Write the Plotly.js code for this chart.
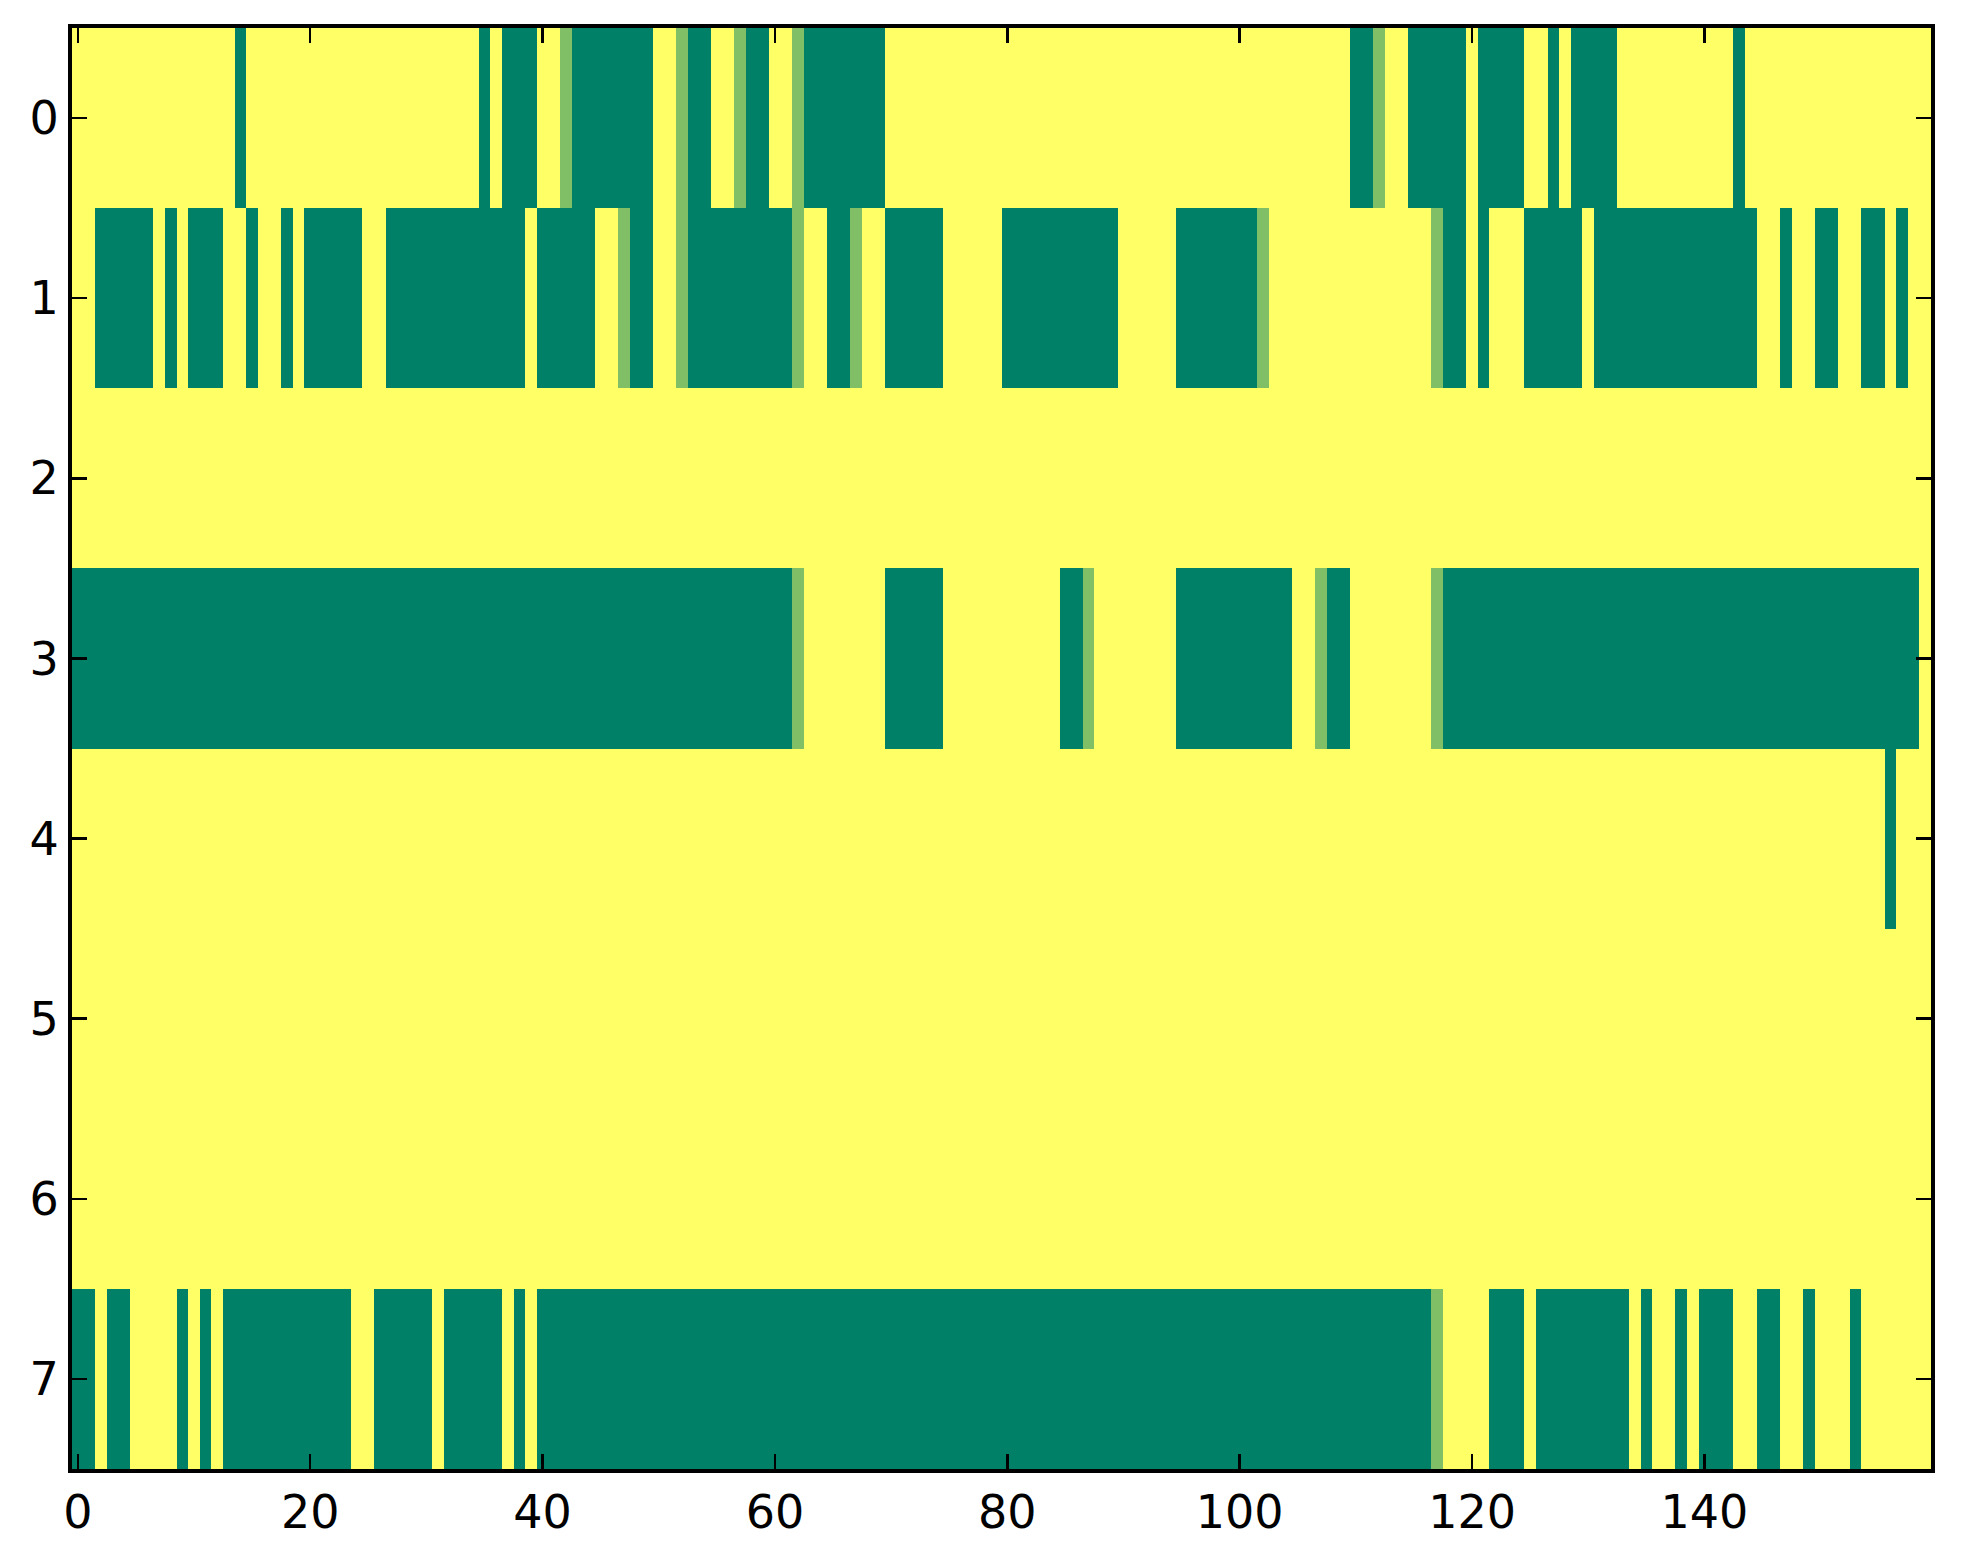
<!DOCTYPE html>
<html>
<head>
<meta charset="utf-8">
<script src="https://cdn.plot.ly/plotly-3.0.1.min.js"></script>
<style>html,body{margin:0;padding:0;background:#fff;}#chart{width:1963px;height:1564px;}</style>
</head>
<body>
<div id="chart"></div>
<script>
// Row values (0 = dark green, 0.5 = mid green, 1 = yellow), columns 0..159
const row0 = [
1,1,1,1,1,1,1,1,1,1, 1,1,1,1,0,1,1,1,1,1, 1,1,1,1,1,1,1,1,1,1, 1,1,1,1,1,0,1,0,0,0,
1,1,.5,0,0,0,0,0,0,0, 1,1,.5,0,0,1,1,.5,0,0, 1,1,.5,0,0,0,0,0,0,0, 1,1,1,1,1,1,1,1,1,1,
1,1,1,1,1,1,1,1,1,1, 1,1,1,1,1,1,1,1,1,1, 1,1,1,1,1,1,1,1,1,1, 0,0,.5,1,1,0,0,0,0,0,
1,0,0,0,0,1,1,0,1,0, 0,0,0,1,1,1,1,1,1,1, 1,1,1,0,1,1,1,1,1,1, 1,1,1,1,1,1,1,1,1,1];
const row1 = [
1,1,0,0,0,0,0,1,0,1, 0,0,0,1,1,0,1,1,0,1, 0,0,0,0,0,1,1,0,0,0, 0,0,0,0,0,0,0,0,0,1,
0,0,0,0,0,1,1,.5,0,0, 1,1,.5,0,0,0,0,0,0,0, 0,0,.5,1,1,0,0,.5,1,1, 0,0,0,0,0,1,1,1,1,1,
0,0,0,0,0,0,0,0,0,0, 1,1,1,1,1,0,0,0,0,0, 0,0,.5,1,1,1,1,1,1,1, 1,1,1,1,1,1,1,.5,0,0,
1,0,1,1,1,0,0,0,0,0, 1,0,0,0,0,0,0,0,0,0, 0,0,0,0,0,1,1,0,1,1, 0,0,1,1,0,0,1,0,1,1];
const row2 = [
1,1,1,1,1,1,1,1,1,1, 1,1,1,1,1,1,1,1,1,1, 1,1,1,1,1,1,1,1,1,1, 1,1,1,1,1,1,1,1,1,1,
1,1,1,1,1,1,1,1,1,1, 1,1,1,1,1,1,1,1,1,1, 1,1,1,1,1,1,1,1,1,1, 1,1,1,1,1,1,1,1,1,1,
1,1,1,1,1,1,1,1,1,1, 1,1,1,1,1,1,1,1,1,1, 1,1,1,1,1,1,1,1,1,1, 1,1,1,1,1,1,1,1,1,1,
1,1,1,1,1,1,1,1,1,1, 1,1,1,1,1,1,1,1,1,1, 1,1,1,1,1,1,1,1,1,1, 1,1,1,1,1,1,1,1,1,1];
const row3 = [
0,0,0,0,0,0,0,0,0,0, 0,0,0,0,0,0,0,0,0,0, 0,0,0,0,0,0,0,0,0,0, 0,0,0,0,0,0,0,0,0,0,
0,0,0,0,0,0,0,0,0,0, 0,0,0,0,0,0,0,0,0,0, 0,0,.5,1,1,1,1,1,1,1, 0,0,0,0,0,1,1,1,1,1,
1,1,1,1,1,0,0,.5,1,1, 1,1,1,1,1,0,0,0,0,0, 0,0,0,0,0,1,1,.5,0,0, 1,1,1,1,1,1,1,.5,0,0,
0,0,0,0,0,0,0,0,0,0, 0,0,0,0,0,0,0,0,0,0, 0,0,0,0,0,0,0,0,0,0, 0,0,0,0,0,0,0,0,0,1];
const row4 = [
1,1,1,1,1,1,1,1,1,1, 1,1,1,1,1,1,1,1,1,1, 1,1,1,1,1,1,1,1,1,1, 1,1,1,1,1,1,1,1,1,1,
1,1,1,1,1,1,1,1,1,1, 1,1,1,1,1,1,1,1,1,1, 1,1,1,1,1,1,1,1,1,1, 1,1,1,1,1,1,1,1,1,1,
1,1,1,1,1,1,1,1,1,1, 1,1,1,1,1,1,1,1,1,1, 1,1,1,1,1,1,1,1,1,1, 1,1,1,1,1,1,1,1,1,1,
1,1,1,1,1,1,1,1,1,1, 1,1,1,1,1,1,1,1,1,1, 1,1,1,1,1,1,1,1,1,1, 1,1,1,1,1,1,0,1,1,1];
const row5 = [
1,1,1,1,1,1,1,1,1,1, 1,1,1,1,1,1,1,1,1,1, 1,1,1,1,1,1,1,1,1,1, 1,1,1,1,1,1,1,1,1,1,
1,1,1,1,1,1,1,1,1,1, 1,1,1,1,1,1,1,1,1,1, 1,1,1,1,1,1,1,1,1,1, 1,1,1,1,1,1,1,1,1,1,
1,1,1,1,1,1,1,1,1,1, 1,1,1,1,1,1,1,1,1,1, 1,1,1,1,1,1,1,1,1,1, 1,1,1,1,1,1,1,1,1,1,
1,1,1,1,1,1,1,1,1,1, 1,1,1,1,1,1,1,1,1,1, 1,1,1,1,1,1,1,1,1,1, 1,1,1,1,1,1,1,1,1,1];
const row6 = [
1,1,1,1,1,1,1,1,1,1, 1,1,1,1,1,1,1,1,1,1, 1,1,1,1,1,1,1,1,1,1, 1,1,1,1,1,1,1,1,1,1,
1,1,1,1,1,1,1,1,1,1, 1,1,1,1,1,1,1,1,1,1, 1,1,1,1,1,1,1,1,1,1, 1,1,1,1,1,1,1,1,1,1,
1,1,1,1,1,1,1,1,1,1, 1,1,1,1,1,1,1,1,1,1, 1,1,1,1,1,1,1,1,1,1, 1,1,1,1,1,1,1,1,1,1,
1,1,1,1,1,1,1,1,1,1, 1,1,1,1,1,1,1,1,1,1, 1,1,1,1,1,1,1,1,1,1, 1,1,1,1,1,1,1,1,1,1];
const row7 = [
0,0,1,0,0,1,1,1,1,0, 1,0,1,0,0,0,0,0,0,0, 0,0,0,0,1,1,0,0,0,0, 0,1,0,0,0,0,0,1,0,1,
0,0,0,0,0,0,0,0,0,0, 0,0,0,0,0,0,0,0,0,0, 0,0,0,0,0,0,0,0,0,0, 0,0,0,0,0,0,0,0,0,0,
0,0,0,0,0,0,0,0,0,0, 0,0,0,0,0,0,0,0,0,0, 0,0,0,0,0,0,0,0,0,0, 0,0,0,0,0,0,0,.5,1,1,
1,1,0,0,0,1,0,0,0,0, 0,0,0,0,1,0,1,1,0,1, 0,0,0,1,1,0,0,1,1,0, 1,1,1,0,1,1,1,1,1,1];

const rowLabels = [0,1,2,3,4,5,6,7];
const xTicks = [0,20,40,60,80,100,120,140];

const z = [row0,row1,row2,row3,row4,row5,row6,row7];
const cols = row0.map((_, i) => i);

const trace = {
  type: 'heatmap',
  z: z,
  x: cols,
  y: rowLabels,
  zmin: 0, zmax: 1,
  zsmooth: false,
  showscale: false,
  colorscale: [[0,'#008066'],[0.5,'#80bf66'],[1,'#ffff66']],
  hoverinfo: 'skip'
};

const axisCommon = {
  showline: true, linecolor: '#000', linewidth: 4, mirror: 'ticks',
  ticks: 'inside', ticklen: 15, tickwidth: 2.5, tickcolor: '#000',
  showgrid: false, zeroline: false,
  tickfont: {family: 'DejaVu Sans', size: 46, color: '#000'}
};

const layout = {
  width: 1963, height: 1564,
  margin: {l: 72, r: 32, t: 28, b: 95, pad: 0},
  paper_bgcolor: '#fff', plot_bgcolor: '#fff',
  xaxis: Object.assign({}, axisCommon, {range: [-0.5, 159.5], tickvals: xTicks, ticktext: xTicks.map(String)}),
  yaxis: Object.assign({}, axisCommon, {range: [7.5, -0.5], tickvals: rowLabels, ticktext: rowLabels.map(String)}),
  showlegend: false
};

Plotly.newPlot('chart', [trace], layout, {staticPlot: true, displayModeBar: false});
</script>
</body>
</html>
